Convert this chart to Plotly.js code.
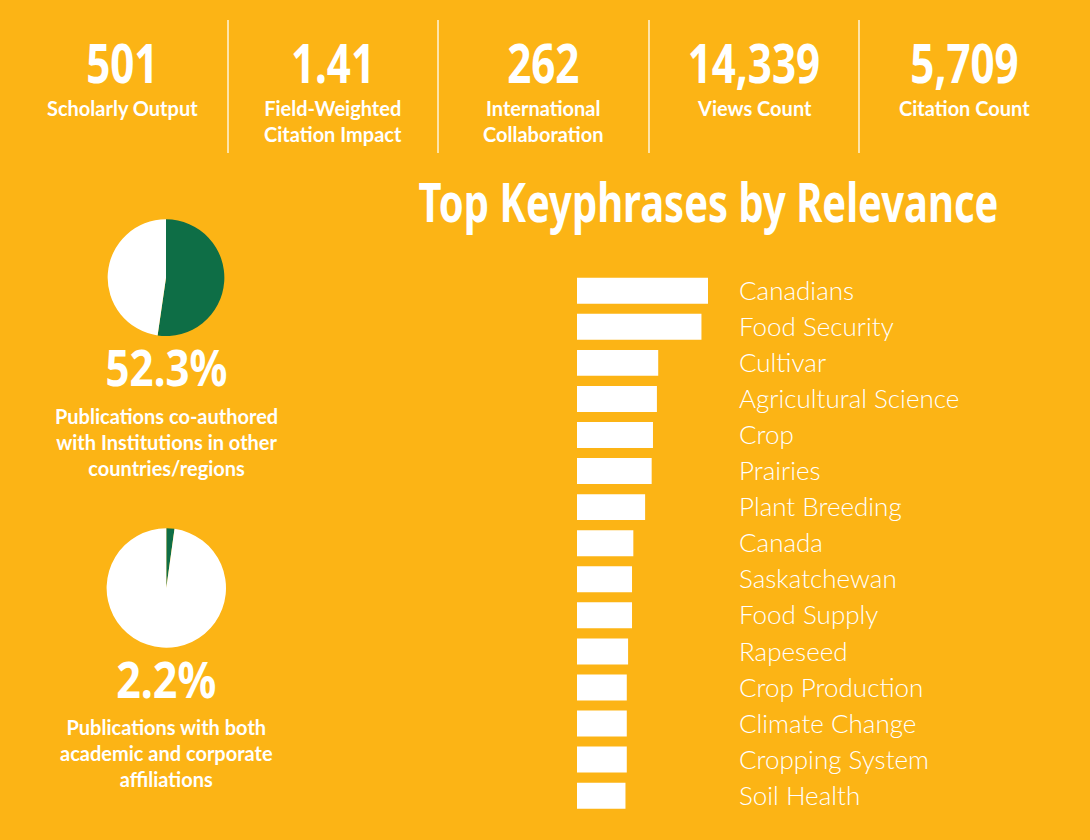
<!DOCTYPE html>
<html>
<head>
<meta charset="utf-8">
<script src="https://cdn.plot.ly/plotly-3.0.1.min.js"></script>
<style>
  html, body { margin: 0; padding: 0; background: #FCB415; }
  #chart { width: 1090px; height: 840px; }
</style>
</head>
<body>
<div id="chart"></div>
<script>
// ---- data ----
const kpiValues = ["501", "1.41", "262", "14,339", "5,709"];
const kpiLabels = ["Scholarly Output", "Field-Weighted<br>Citation Impact", "International<br>Collaboration", "Views Count", "Citation Count"];

const keyphrases = ["Canadians", "Food Security", "Cultivar", "Agricultural Science", "Crop", "Prairies",
  "Plant Breeding", "Canada", "Saskatchewan", "Food Supply", "Rapeseed", "Crop Production",
  "Climate Change", "Cropping System", "Soil Health"];
const relevance = [1.00, 0.95, 0.62, 0.61, 0.58, 0.57, 0.52, 0.43, 0.42, 0.42, 0.39, 0.38, 0.38, 0.38, 0.37];

const intlLabels = ["Co-authored with other countries/regions", "Other"];
const intlShare = [52.3, 47.7];
const corpLabels = ["Academic-corporate", "Other"];
const corpShare = [2.2, 97.8];
const pieTexts = ["52.3%", "2.2%"];
const pieCaptions = ["Publications co-authored<br>with Institutions in other<br>countries/regions",
                     "Publications with both<br>academic and corporate<br>affiliations"];

// ---- style ----
const BG = "#FCB415";
const GREEN = "#0E6E46";
const W = 1090, H = 840;
const px = x => x / W;
const py = y => 1 - y / H;
const HEAVY = "'Noto Sans', sans-serif";
const LABEL = "Lato, 'Open Sans', sans-serif";

const traces = [
  {
    type: "bar", orientation: "h",
    x: relevance, y: keyphrases,
    marker: { color: "#FFFFFF" },
    hoverinfo: "none",
    xaxis: "x", yaxis: "y"
  },
  {
    type: "pie", values: intlShare, labels: intlLabels, sort: false, direction: "clockwise", rotation: 0,
    marker: { colors: [GREEN, "#FFFFFF"] }, textinfo: "none", hoverinfo: "none", showlegend: false,
    domain: { x: [px(166 - 58.4), px(166 + 58.4)], y: [py(336), py(219.3)] }
  },
  {
    type: "pie", values: corpShare, labels: corpLabels, sort: false, direction: "clockwise", rotation: 0,
    marker: { colors: [GREEN, "#FFFFFF"] }, textinfo: "none", hoverinfo: "none", showlegend: false,
    domain: { x: [px(166.3 - 59.7), px(166.3 + 59.7)], y: [py(647.7), py(528.3)] }
  }
];

const annotations = [];
const squeeze = {};   // annotation index -> horizontal condensing factor
const centers = [122, 333, 543, 754, 964];
kpiValues.forEach((v, i) => {
  squeeze[annotations.length] = 0.78;
  annotations.push({
    text: v, xref: "paper", yref: "paper", x: px(centers[i]), y: py(62.5),
    xanchor: "center", yanchor: "middle", showarrow: false,
    font: { family: HEAVY, size: 54, color: "#FFFFFF", weight: 700 }
  });
  annotations.push({
    text: kpiLabels[i], xref: "paper", yref: "paper", x: px(centers[i]), y: py(94),
    xanchor: "center", yanchor: "top", showarrow: false,
    font: { family: LABEL, size: 20, color: "#FFFFFF", weight: 700 }
  });
});
const pieY = [367, 679];
const pieSq = [0.84, 0.86];
const capY = [401.5, 713];
pieTexts.forEach((t, i) => {
  squeeze[annotations.length] = pieSq[i];
  annotations.push({
    text: t, xref: "paper", yref: "paper", x: px(166), y: py(pieY[i]),
    xanchor: "center", yanchor: "middle", showarrow: false,
    font: { family: HEAVY, size: 50, color: "#FFFFFF", weight: 700 }
  });
  annotations.push({
    text: pieCaptions[i], xref: "paper", yref: "paper", x: px(166), y: py(capY[i]),
    xanchor: "center", yanchor: "top", showarrow: false, align: "center",
    font: { family: LABEL, size: 20, color: "#FFFFFF", weight: 700 }
  });
});

const shapes = [228, 438, 649, 859].map(x => ({
  type: "line", xref: "paper", yref: "paper", x0: px(x), x1: px(x), y0: py(20), y1: py(153),
  line: { color: "rgba(255,255,255,0.85)", width: 1.5 }
}));

const layout = {
  width: W, height: H,
  margin: { l: 0, r: 0, t: 0, b: 0, pad: 0 },
  paper_bgcolor: BG, plot_bgcolor: "rgba(0,0,0,0)",
  showlegend: false,
  title: {
    text: "Top Keyphrases by Relevance",
    x: px(708.5), xanchor: "center", xref: "paper",
    y: py(203), yanchor: "middle", yref: "paper",
    font: { family: HEAVY, size: 54, color: "#FFFFFF", weight: 700 }
  },
  bargap: 0.28,
  xaxis: {
    domain: [px(577), px(708)], range: [0, 1],
    showgrid: false, zeroline: false, showline: false, showticklabels: false, ticks: "",
    anchor: "y", fixedrange: true
  },
  yaxis: {
    domain: [py(813.7), py(272.7)],
    type: "category", autorange: "reversed",
    categoryorder: "array", categoryarray: keyphrases,
    side: "right", anchor: "free", position: px(738),
    showgrid: false, zeroline: false, showline: false, ticks: "",
    tickfont: { family: LABEL, size: 26, color: "#FFFFFF", weight: 300 },
    fixedrange: true
  },
  annotations: annotations,
  shapes: shapes
};

function condense(el, s) {
  if (!el) return;
  el.style.transformBox = "fill-box";
  el.style.transformOrigin = "center";
  el.style.transform = "scaleX(" + s + ")";
}

Plotly.newPlot("chart", traces, layout, { displayModeBar: false, staticPlot: true }).then(gd => {
  condense(gd.querySelector(".gtitle"), 0.74);
  Object.keys(squeeze).forEach(k => {
    const g = gd.querySelector('.annotation[data-index="' + k + '"] text.annotation-text');
    condense(g, squeeze[k]);
  });
});
</script>
</body>
</html>
